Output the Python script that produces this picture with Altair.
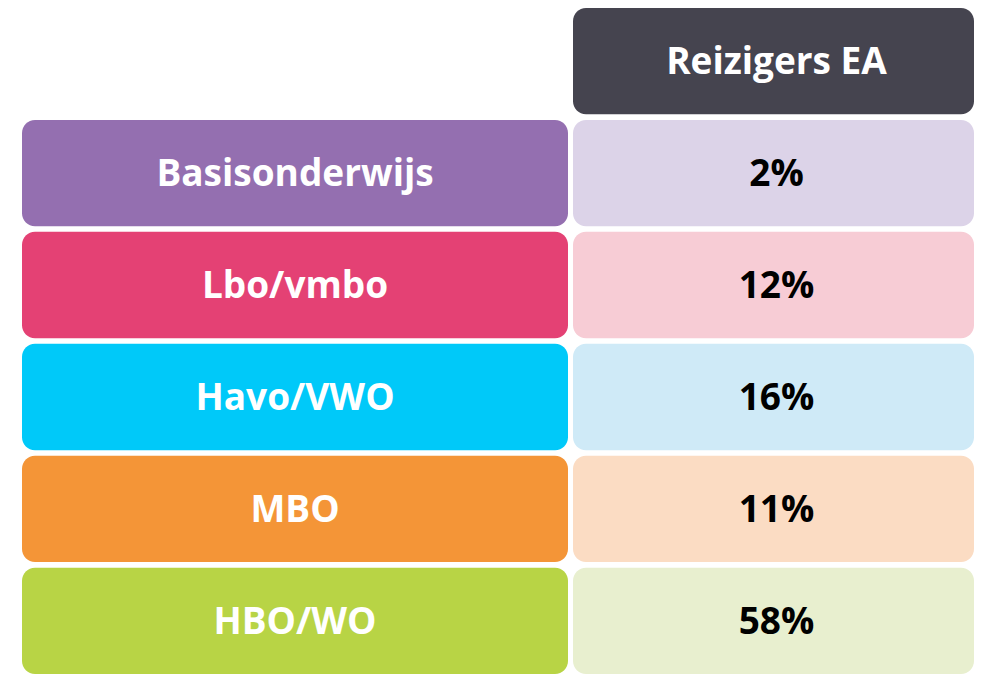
import altair as alt
import pandas as pd

categories = ["Basisonderwijs", "Lbo/vmbo", "Havo/VWO", "MBO", "HBO/WO"]
values = ["2%", "12%", "16%", "11%", "58%"]
header_label = "Reizigers EA"
dark_colors = ["#946fb0", "#e44174", "#00c9f9", "#f49537", "#b8d445"]
light_colors = ["#dcd3e8", "#f7ccd5", "#cfeaf7", "#fbdcc3", "#e8efcf"]
header_color = "#45444f"

rows = ["header"] + categories
yscale = alt.Scale(domain=rows, paddingInner=0.05, paddingOuter=0)
FONT = "Open Sans"
FS = 37

left_df = pd.DataFrame({"row": categories, "label": categories, "color": dark_colors})
right_df = pd.DataFrame({
    "row": rows,
    "label": [header_label] + values,
    "color": [header_color] + light_colors,
    "tcolor": ["#ffffff"] + ["#000000"] * len(values),
})

LW, RW, H = 546, 401, 666

left_base = alt.Chart(left_df)
left = alt.layer(
    left_base.mark_rect(cornerRadius=13).encode(
        y=alt.Y("row:N", scale=yscale, axis=None),
        color=alt.Color("color:N", scale=None),
    ),
    left_base.mark_text(font=FONT, fontWeight="bold", fontSize=FS, color="white", dy=2).encode(
        y=alt.Y("row:N", scale=yscale, axis=None),
        x=alt.value(LW / 2),
        text="label:N",
    ),
).properties(width=LW, height=H)

right_base = alt.Chart(right_df)
right = alt.layer(
    right_base.mark_rect(cornerRadius=13).encode(
        y=alt.Y("row:N", scale=yscale, axis=None),
        color=alt.Color("color:N", scale=None),
    ),
    right_base.mark_text(font=FONT, fontWeight="bold", fontSize=FS, dy=2).encode(
        y=alt.Y("row:N", scale=yscale, axis=None),
        x=alt.value(RW / 2 + 3),
        text="label:N",
        color=alt.Color("tcolor:N", scale=None),
    ),
).properties(width=RW, height=H)

chart = alt.hconcat(left, right, spacing=5).properties(
    padding={"left": 14, "top": 0, "right": 0, "bottom": 0}
).configure_view(stroke=None)

chart.save("out.html", embed_options={"renderer": "svg", "actions": False})
